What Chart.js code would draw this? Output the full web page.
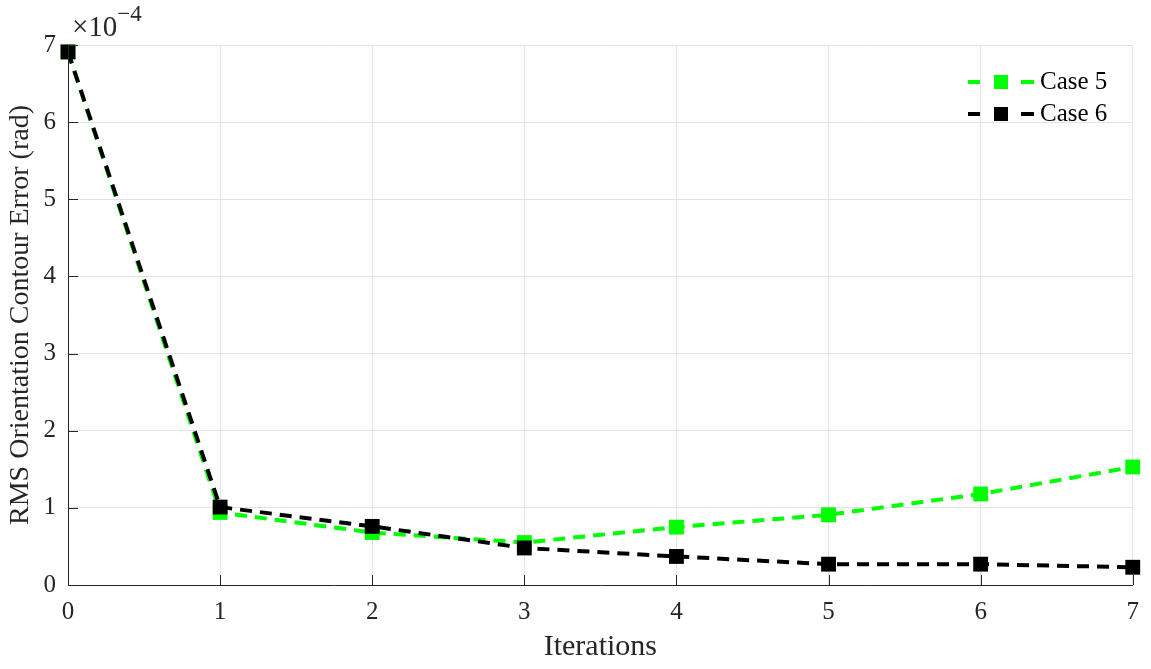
<!DOCTYPE html>
<html>
<head>
<meta charset="utf-8">
<script src="https://cdn.jsdelivr.net/npm/chart.js@4.4.1/dist/chart.umd.min.js"></script>
<style>
  html, body { margin: 0; padding: 0; background: #fff; }
  #wrap { width: 1151px; height: 669px; }
</style>
</head>
<body>
<div id="wrap"><canvas id="grafico"></canvas></div>
<script>
// Dados (erro em unidades de 1e-4 rad)
const iteracoes = [0, 1, 2, 3, 4, 5, 6, 7];
const caso5 = [6.91, 0.94, 0.68, 0.55, 0.75, 0.91, 1.18, 1.53];
const caso6 = [6.91, 1.01, 0.76, 0.48, 0.37, 0.27, 0.27, 0.23];
const ticksY = [0, 1, 2, 3, 4, 5, 6, 7];

const FONTE = "'Liberation Serif', 'Times New Roman', serif";

function pontos(valores) {
    return iteracoes.map((it, i) => ({ x: it, y: valores[i] }));
}

// Legenda, moldura, ticks internos e o multiplicador x10^-4
const extras = {
    id: "extras",
    afterDraw(chart) {
        const ctx = chart.ctx;
        const area = chart.chartArea;
        const sx = chart.scales.x;
        const sy = chart.scales.y;
        ctx.save();

        // moldura
        ctx.strokeStyle = "#262626";
        ctx.lineWidth = 1;
        ctx.beginPath();
        ctx.moveTo(area.left + 0.5, area.top);
        ctx.lineTo(area.left + 0.5, area.bottom + 0.5);
        ctx.lineTo(area.right, area.bottom + 0.5);
        ctx.stroke();

        // ticks internos
        iteracoes.forEach(v => {
            const px = Math.round(sx.getPixelForValue(v)) + 0.5;
            ctx.beginPath();
            ctx.moveTo(px, area.bottom);
            ctx.lineTo(px, area.bottom - 10);
            ctx.stroke();
        });
        ticksY.forEach(v => {
            const py = Math.round(sy.getPixelForValue(v)) + 0.5;
            ctx.beginPath();
            ctx.moveTo(area.left, py);
            ctx.lineTo(area.left + 10, py);
            ctx.stroke();
        });

        // x10^-4
        ctx.fillStyle = "#262626";
        ctx.textBaseline = "alphabetic";
        ctx.textAlign = "left";
        ctx.font = "29px " + FONTE;
        ctx.fillText("\u00d710", area.left + 4, area.top - 9);
        const w = ctx.measureText("\u00d710").width;
        ctx.font = "23px " + FONTE;
        ctx.fillText("\u22124", area.left + 4 + w, area.top - 24);

        // legenda
        chart.data.datasets.forEach((ds, i) => {
            const y = 82 + i * 32;
            const x0 = 968;
            ctx.strokeStyle = ds.borderColor;
            ctx.lineWidth = 4;
            ctx.beginPath();
            ctx.moveTo(x0, y); ctx.lineTo(x0 + 12, y);
            ctx.moveTo(x0 + 53, y); ctx.lineTo(x0 + 66, y);
            ctx.stroke();
            ctx.fillStyle = ds.pointBackgroundColor;
            ctx.fillRect(x0 + 26, y - 7, 14, 14);
            ctx.fillStyle = "#000";
            ctx.font = "25px " + FONTE;
            ctx.textBaseline = "middle";
            ctx.fillText(ds.label, x0 + 72, y);
        });

        ctx.restore();
    }
};

document.addEventListener("DOMContentLoaded", () => {
    const ctx = document.getElementById("grafico").getContext("2d");

    new Chart(ctx, {
        type: "line",
        data: {
            datasets: [
                {
                    label: "Case 5",
                    data: pontos(caso5),
                    borderColor: "#00ff00",
                    backgroundColor: "#00ff00",
                    pointBackgroundColor: "#00ff00",
                    pointBorderColor: "#00ff00",
                    borderWidth: 4,
                    borderDash: [12, 8],
                    pointStyle: "rect",
                    pointRadius: 10.5,
                    pointBorderWidth: 0,
                    clip: false,
                    order: 1
                },
                {
                    label: "Case 6",
                    data: pontos(caso6),
                    borderColor: "#000000",
                    backgroundColor: "#000000",
                    pointBackgroundColor: "#000000",
                    pointBorderColor: "#000000",
                    borderWidth: 4,
                    borderDash: [12, 8],
                    pointStyle: "rect",
                    pointRadius: 10.5,
                    pointBorderWidth: 0,
                    clip: false,
                    order: 0
                }
            ]
        },
        options: {
            responsive: true,
            maintainAspectRatio: false,
            animation: false,
            events: [],
            layout: { padding: { top: 45, right: 15, left: 0, bottom: 0 } },
            plugins: {
                legend: { display: false },
                tooltip: { enabled: false }
            },
            scales: {
                x: {
                    type: "linear",
                    min: 0,
                    max: 7,
                    afterFit: s => { s.height = 84; },
                    grid: { color: "#e3e3e3", drawTicks: false, lineWidth: 1 },
                    border: { display: false },
                    ticks: {
                        stepSize: 1,
                        padding: 12,
                        color: "#262626",
                        font: { family: FONTE, size: 25 }
                    },
                    title: {
                        display: true,
                        text: "Iterations",
                        color: "#262626",
                        padding: { top: 4 },
                        font: { family: FONTE, size: 30 }
                    }
                },
                y: {
                    min: 0,
                    max: 7,
                    afterFit: s => { s.width = 68; },
                    afterBuildTicks: s => { s.ticks = ticksY.map(v => ({ value: v })); },
                    grid: { color: "#e3e3e3", drawTicks: false, lineWidth: 1 },
                    border: { display: false },
                    ticks: {
                        padding: 12,
                        color: "#262626",
                        font: { family: FONTE, size: 25 }
                    },
                    title: {
                        display: true,
                        text: "RMS Orientation Contour Error (rad)",
                        color: "#262626",
                        padding: { bottom: 2 },
                        font: { family: FONTE, size: 28 }
                    }
                }
            }
        },
        plugins: [extras]
    });
});
</script>
</body>
</html>
